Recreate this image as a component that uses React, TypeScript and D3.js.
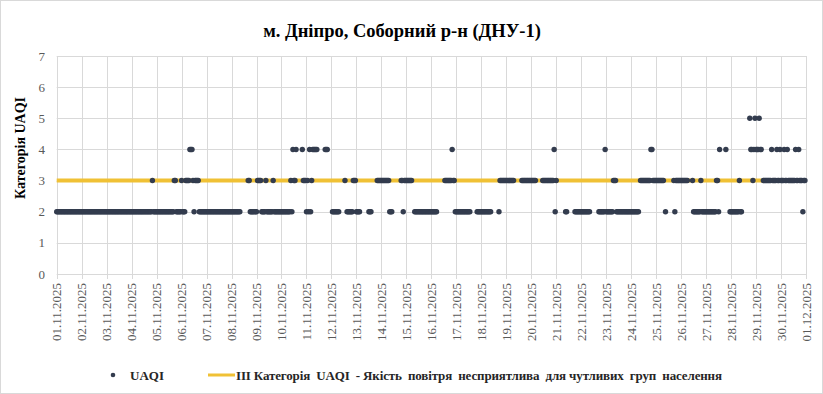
import React, { useEffect, useRef } from 'react'
import * as d3 from 'd3'

const title = 'м. Дніпро, Соборний р-н (ДНУ-1)'
const yTitle = 'Категорія UAQI'
const dotLegend = 'UAQI'
const lineLegend = 'ІІІ Категорія  UAQI  - Якість  повітря  несприятлива  для чутливих  груп  населення'

const dayLabels = [
    '01.11.2025', '02.11.2025', '03.11.2025', '04.11.2025', '05.11.2025', '06.11.2025',
    '07.11.2025', '08.11.2025', '09.11.2025', '10.11.2025', '11.11.2025', '12.11.2025',
    '13.11.2025', '14.11.2025', '15.11.2025', '16.11.2025', '17.11.2025', '18.11.2025',
    '19.11.2025', '20.11.2025', '21.11.2025', '22.11.2025', '23.11.2025', '24.11.2025',
    '25.11.2025', '26.11.2025', '27.11.2025', '28.11.2025', '29.11.2025', '30.11.2025',
    '01.12.2025',
]
const yTicks = [0, 1, 2, 3, 4, 5, 6, 7]
const thresholdCategory = 3

// hourly UAQI category, one string of 24 hours per day, '.' = no value
const uaqiByDay = [
    '222222222222222222222222',
    '222222222222222222222222',
    '222222222222222222222222',
    '222222222222222222223222',
    '222222222222222223322222',
    '322233334443233332222222',
    '222222222222222222222222',
    '222222222.......33222222',
    '233332222322222232222222',
    '222222222324334.....4333',
    '23242344444.......444...',
    '.2222222.....3.222222333',
    '2222........222.....3333',
    '33333333222........33233',
    '333333..2222222222222222',
    '222222.......33333334332',
    '22222222222222......2222',
    '2222222222.......2333333',
    '33333333.......333333333',
    '33333......3333333333342',
    '3........22.......222222',
    '222222222........2222224',
    '222222233322222222222222',
    '22222222.333333333344333',
    '33333333.2.......3233333',
    '3333333....3222222232222',
    '22222222223324.....4...2',
    '22222222322.......544345',
    '444544.33333333433334334',
    '333433433333334334333233',
]

const W = 823, H = 394

export default function App() {
    const ref = useRef<SVGSVGElement>(null)

    useEffect(() => {
        const svg = d3.select(ref.current)
        svg.selectAll('*').remove()

        const hours = dayLabels.length - 1
        const x = d3.scaleLinear().domain([0, hours * 24]).range([56.7, 806])
        const y = d3.scaleLinear().domain([0, 7]).range([274, 56])

        const points = uaqiByDay.flatMap((s, d) =>
            s.split('').map((c, h) => ({ hour: d * 24 + h, value: c === '.' ? null : +c }))
        ).filter(p => p.value !== null)

        svg.append('rect')
            .attr('x', 0.5).attr('y', 0.5).attr('width', W - 1).attr('height', H - 1)
            .attr('fill', '#fff').attr('stroke', '#d9d9d9')

        // grid
        const grid = svg.append('g').attr('stroke', '#d9d9d9').attr('stroke-width', 1)
        grid.selectAll('.gy').data(yTicks).enter().append('line')
            .attr('x1', x(0)).attr('x2', x(hours * 24))
            .attr('y1', d => Math.round(y(d)) + 0.5).attr('y2', d => Math.round(y(d)) + 0.5)
        grid.selectAll('.gx').data(dayLabels).enter().append('line')
            .attr('x1', (d, i) => Math.round(x(i * 24)) + 0.5).attr('x2', (d, i) => Math.round(x(i * 24)) + 0.5)
            .attr('y1', y(7)).attr('y2', y(0) + 5)

        // y labels
        svg.append('g').selectAll('text').data(yTicks).enter().append('text')
            .attr('x', 45).attr('y', d => y(d)).attr('dy', '0.35em')
            .attr('text-anchor', 'end').attr('font-size', 13)
            .attr('fill', '#595959').text(d => d)

        // x labels
        svg.append('g').selectAll('text').data(dayLabels).enter().append('text')
            .attr('transform', (d, i) => `translate(${x(i * 24)},${y(0) + 9}) rotate(-90)`)
            .attr('text-anchor', 'end').attr('dy', '0.35em')
            .attr('font-size', 13).attr('fill', '#595959')
            .text(d => d)

        // threshold line
        svg.append('line')
            .attr('x1', x(0)).attr('x2', x(hours * 24))
            .attr('y1', y(thresholdCategory)).attr('y2', y(thresholdCategory))
            .attr('stroke', '#f0c135').attr('stroke-width', 4)

        // dots
        svg.append('g').selectAll('circle').data(points).enter().append('circle')
            .attr('cx', d => x(d.hour)).attr('cy', d => y(d.value as number))
            .attr('r', 2.7).attr('fill', '#333c4e')

        // titles
        svg.append('text').attr('x', 402).attr('y', 37).attr('text-anchor', 'middle')
            .attr('font-size', 18.5).attr('font-weight', 'bold')
            .attr('fill', '#000').text(title)
        svg.append('text').attr('transform', `translate(25,148) rotate(-90)`)
            .attr('text-anchor', 'middle')
            .attr('font-size', 14).attr('font-weight', 'bold')
            .attr('fill', '#000').text(yTitle)

        // legend
        const lg = svg.append('g').attr('font-size', 13)
            .attr('font-weight', 'bold').attr('fill', '#262626')
        lg.append('circle').attr('cx', 113).attr('cy', 375).attr('r', 2.3).attr('fill', '#333c4e')
        lg.append('text').attr('x', 130).attr('y', 379.5).text(dotLegend)
        lg.append('line').attr('x1', 208).attr('x2', 235).attr('y1', 375).attr('y2', 375)
            .attr('stroke', '#f0c135').attr('stroke-width', 3)
        lg.append('text').attr('x', 236).attr('y', 379.5)
            .attr('textLength', 486).attr('lengthAdjust', 'spacing')
            .style('white-space', 'pre').text(lineLegend)
    }, [])

    return (
        <svg ref={ref} width={W} height={H}
            style={{ position: 'absolute', left: 0, top: 0, fontFamily: 'Liberation Serif' }} />
    )
}
